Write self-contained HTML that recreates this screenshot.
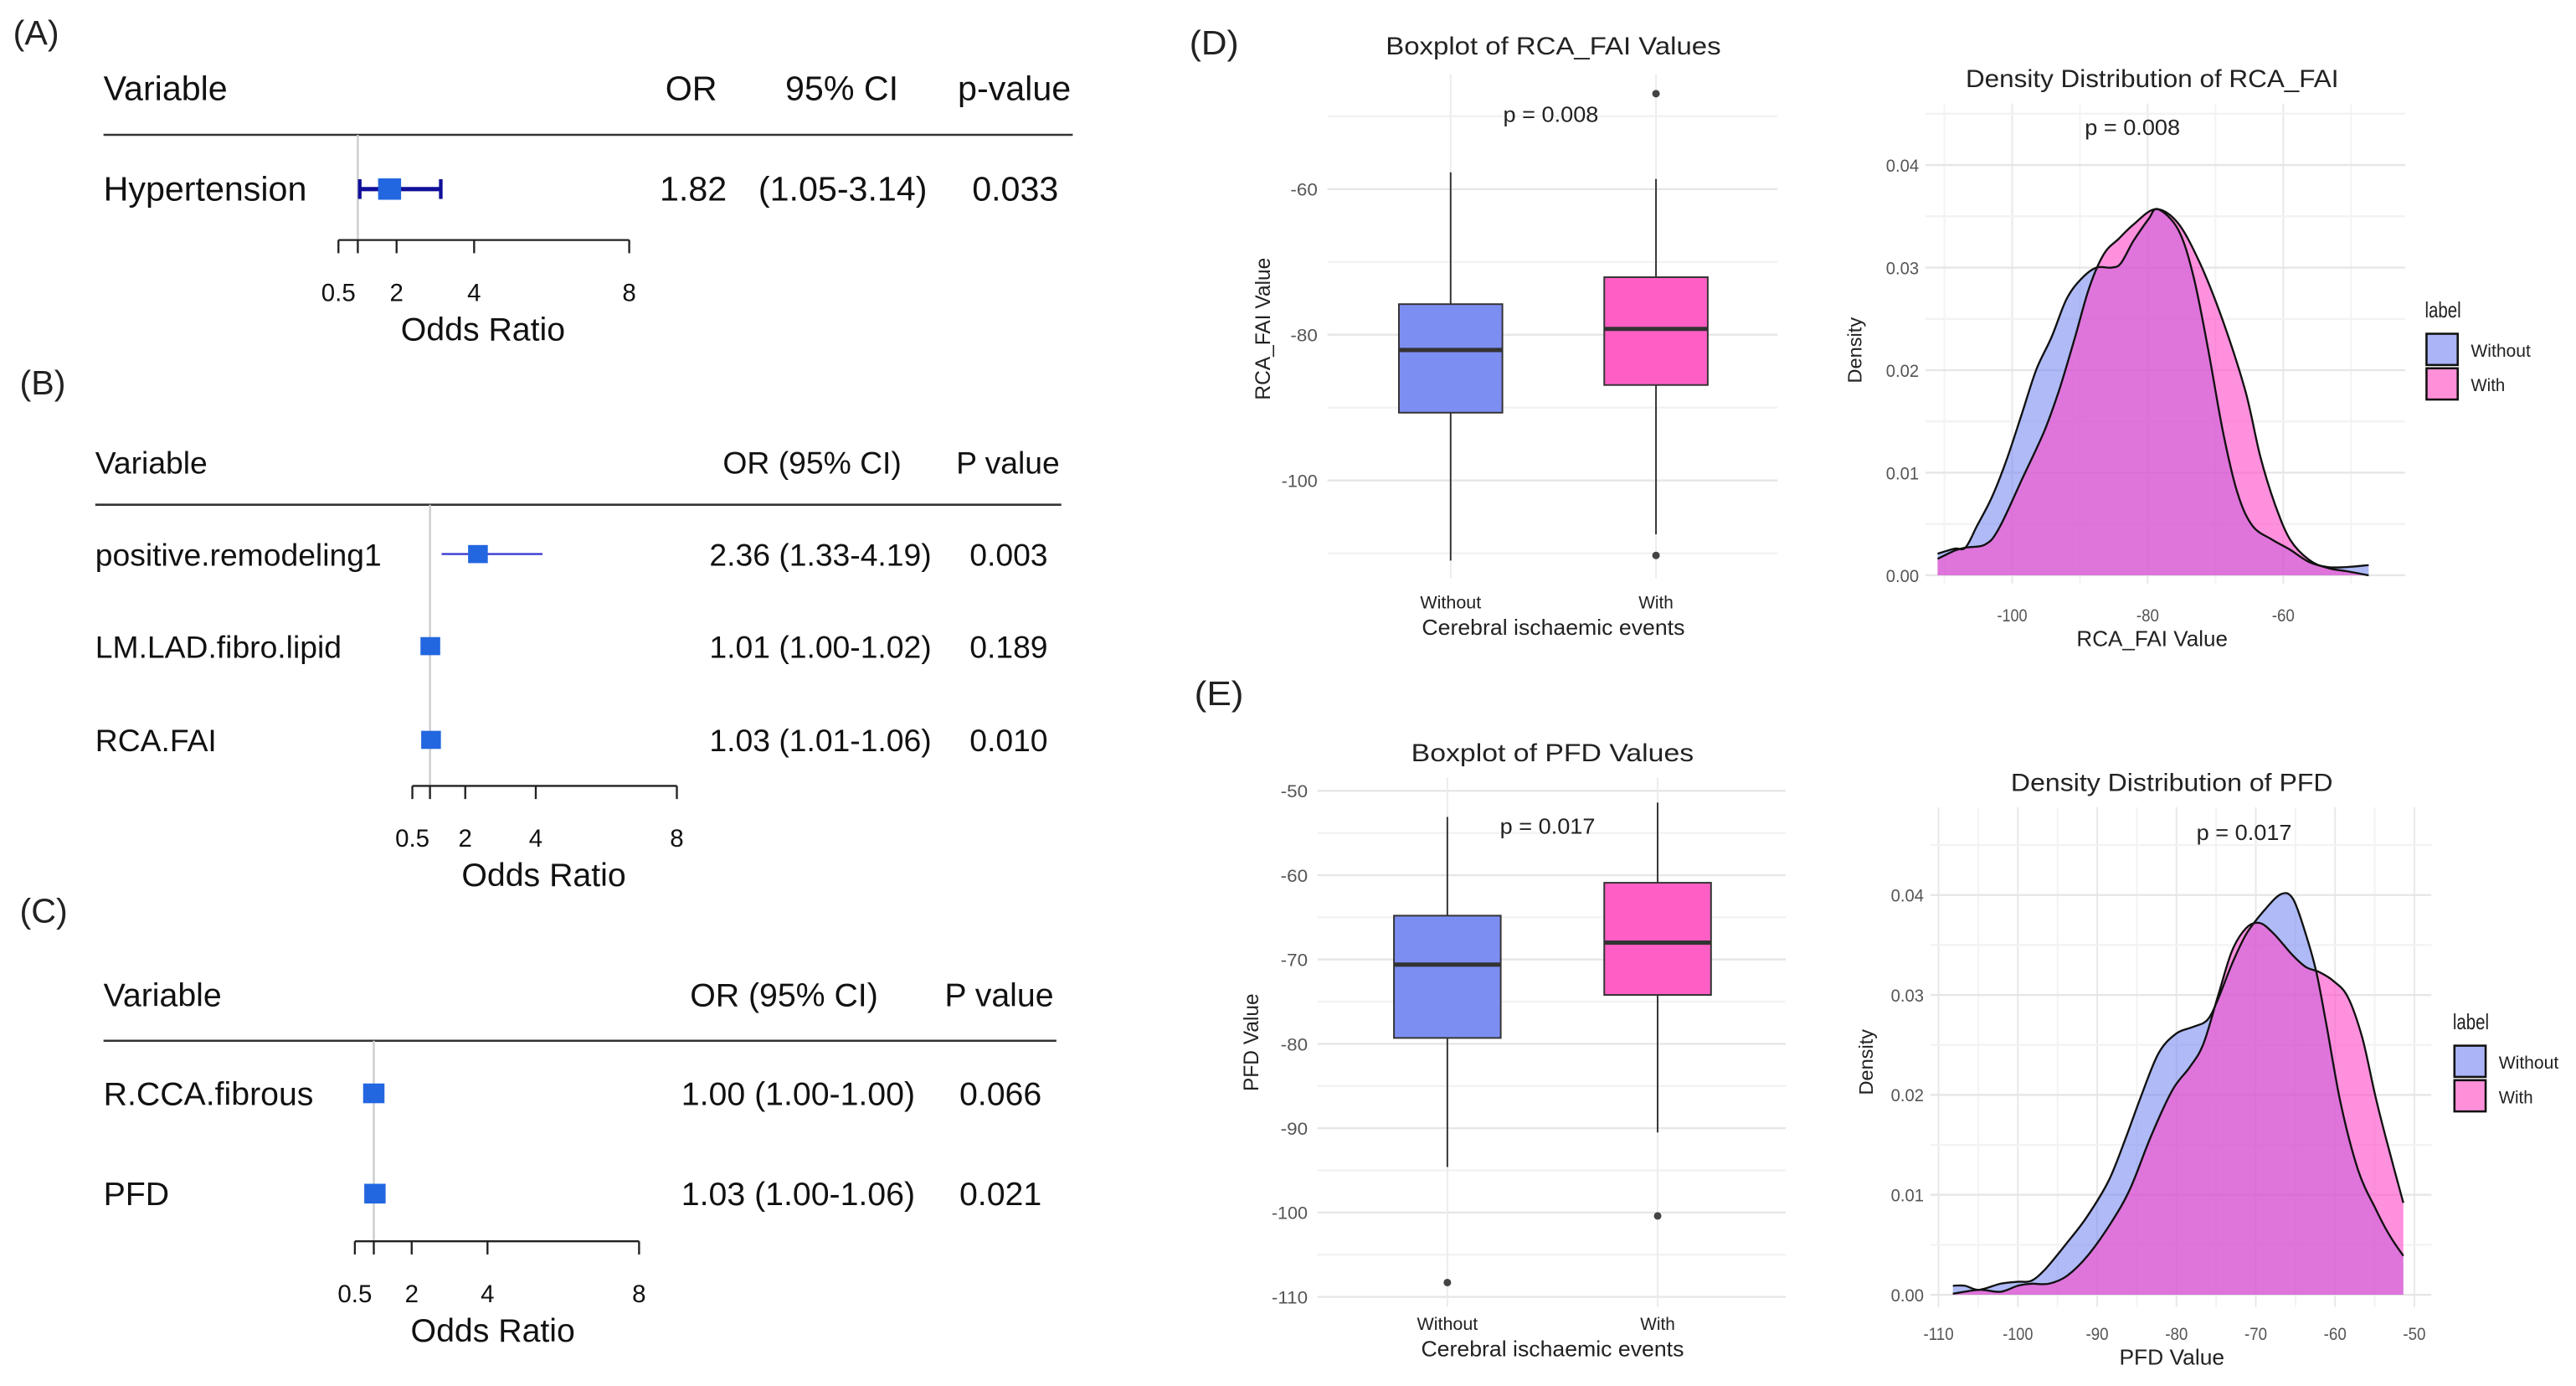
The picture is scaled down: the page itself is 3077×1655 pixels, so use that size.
<!DOCTYPE html>
<html><head><meta charset="utf-8"><style>
html,body{margin:0;padding:0;background:#fff;}
svg{display:block;font-family:"Liberation Sans",sans-serif;}
</style></head><body>
<svg id="fig" width="3077" height="1655" viewBox="0 0 1568 843" preserveAspectRatio="none" xmlns="http://www.w3.org/2000/svg">
<g id="forest"></g><g id="boxes"></g><g id="dens"></g>
</svg>
<script>
// ---------- Forest plot data ----------
const forestA_vars=["Hypertension"];
const forestA_or=[1.82];const forestA_lo=[1.05];const forestA_hi=[3.14];
const forestA_orText=["1.82"];const forestA_ciText=["(1.05-3.14)"];const forestA_p=["0.033"];
const forestB_vars=["positive.remodeling1","LM.LAD.fibro.lipid","RCA.FAI"];
const forestB_or=[2.36,1.01,1.03];const forestB_lo=[1.33,1.00,1.01];const forestB_hi=[4.19,1.02,1.06];
const forestB_text=["2.36 (1.33-4.19)","1.01 (1.00-1.02)","1.03 (1.01-1.06)"];const forestB_p=["0.003","0.189","0.010"];
const forestC_vars=["R.CCA.fibrous","PFD"];
const forestC_or=[1.00,1.03];const forestC_lo=[1.00,1.00];const forestC_hi=[1.00,1.06];
const forestC_text=["1.00 (1.00-1.00)","1.03 (1.00-1.06)"];const forestC_p=["0.066","0.021"];
const forestTicks=[0.5,1,2,4,8];const forestTickLabels=["0.5","","2","4","8"];

// ---------- Boxplot data ----------
const boxCats=["Without","With"];
const boxD_min=[-111,-107.4];const boxD_q1=[-90.7,-86.9];const boxD_med=[-82.1,-79.2];const boxD_q3=[-75.8,-72.1];const boxD_max=[-57.7,-58.6];
const boxD_outWithout=[];const boxD_outWith=[-46.9,-110.3];
const boxD_ticks=[-60,-80,-100];
const boxE_min=[-94.6,-90.5];const boxE_q1=[-79.3,-74.2];const boxE_med=[-70.6,-68.0];const boxE_q3=[-64.8,-60.9];const boxE_max=[-53.1,-51.4];
const boxE_outWithout=[-108.3];const boxE_outWith=[-100.4];
const boxE_ticks=[-50,-60,-70,-80,-90,-100,-110];

// ---------- Density data ----------
const densD_xWithout=[-111,-108.5,-106.9,-105.2,-103,-100.8,-98.6,-96.4,-94.2,-92,-89.8,-87.6,-85.4,-84,-82.1,-79.9,-78.5,-75.5,-73.3,-71.1,-68.9,-66.7,-64.5,-61.7,-59,-56.2,-53.4,-50.7,-47.4];
const densD_yWithout=[0.0021,0.0026,0.0027,0.0048,0.0076,0.0113,0.0157,0.0201,0.0232,0.0269,0.0289,0.030,0.030,0.0304,0.0326,0.0347,0.0357,0.0337,0.0293,0.0221,0.014,0.0079,0.0048,0.0035,0.0025,0.0013,0.0008,0.0008,0.001];
const densD_xWith=[-111,-108.5,-106.9,-104,-102,-98.6,-95.3,-93.1,-90.9,-88.7,-86.5,-84.3,-82.1,-78.8,-75.5,-72.2,-68.9,-65.6,-63.4,-61.2,-59,-56.2,-53.4,-50.7,-47.4];
const densD_yWith=[0.0016,0.0024,0.0027,0.003,0.0045,0.0093,0.014,0.018,0.0228,0.0279,0.0313,0.0328,0.0342,0.0357,0.0343,0.0303,0.0248,0.018,0.0116,0.0069,0.0035,0.0015,0.0007,0.0004,0.0];
const densD_xticks=[-100,-80,-60];const densD_yticks=[0,0.01,0.02,0.03,0.04];
const densE_xWithout=[-108.2,-106.7,-104.9,-102.2,-100,-98.3,-96.5,-93.8,-91.2,-88.5,-86.3,-84.5,-82.3,-80.1,-77.9,-76.1,-74.8,-73,-71.2,-69,-66.8,-65.3,-63.7,-62.4,-61.1,-59.3,-57.1,-54.9,-53.1,-51.4];
const densE_yWithout=[0.0009,0.0009,0.0005,0.0011,0.0013,0.0014,0.0026,0.0052,0.0079,0.0115,0.0159,0.0198,0.0241,0.0261,0.0268,0.0275,0.0295,0.0331,0.0361,0.0384,0.0401,0.0396,0.0361,0.0324,0.0271,0.0192,0.0125,0.0086,0.0059,0.0039];
const densE_xWith=[-108.2,-104.9,-102.2,-100,-98.3,-96.1,-93.8,-91.2,-88.5,-85.9,-83.2,-80.5,-78.3,-76.6,-74.8,-73,-71.2,-69.5,-67.7,-65.5,-63.7,-62,-60.2,-58.4,-56.6,-54.9,-53.1,-51.4];
const densE_yWith=[0.0001,0.0005,0.0003,0.0009,0.0011,0.0011,0.0019,0.0039,0.0069,0.0105,0.0159,0.0205,0.0228,0.0251,0.0298,0.0344,0.0367,0.0372,0.0361,0.0341,0.0328,0.0323,0.0314,0.0298,0.0258,0.0198,0.0142,0.0092];
const densE_xticks=[-110,-100,-90,-80,-70,-60,-50];const densE_yticks=[0,0.01,0.02,0.03,0.04];

const NS="http://www.w3.org/2000/svg";
function mk(parent,tag,attrs,text){const e=document.createElementNS(NS,tag);for(const k in attrs)e.setAttribute(k,attrs[k]);if(text!==undefined)e.textContent=text;parent.appendChild(e);return e;}

// ---------- Forest plots ----------
const F=document.getElementById('forest');
function forest(cfg){
  const g=mk(F,'g',{});
  
  
  const sx=v=>cfg.x0+(v-0.5)*(cfg.x1-cfg.x0)/7.5;
  const t=mk(g,'text',{x:cfg.labelX,y:cfg.labelY,'font-size':21,fill:'#222'},cfg.label);
  
  cfg.headers.forEach(h=>{const e=mk(g,'text',{x:h[1],y:cfg.hy,'font-size':cfg.fs,'text-anchor':h[2]||'start',fill:'#111'},h[0]);
    });
  mk(g,'line',{x1:cfg.lx0,x2:cfg.lx1,y1:cfg.ly,y2:cfg.ly,stroke:'#333','stroke-width':1.3});
  const ref=mk(g,'line',{x1:sx(1),x2:sx(1),y1:cfg.ly,y2:cfg.ay,stroke:'#ccc','stroke-width':1.2});
  
  cfg.vars.forEach((v,i)=>{
    const y=cfg.rows[i];
    const a=mk(g,'text',{x:cfg.lx0,y:y+7,'font-size':cfg.fs,fill:'#111'},v);
    
    const ci=mk(g,'line',{x1:sx(cfg.lo[i]),x2:sx(cfg.hi[i]),y1:y,y2:y,stroke:cfg.ciColor,'stroke-width':cfg.ciW});
    
    if(cfg.caps){[cfg.lo[i],cfg.hi[i]].forEach(c=>mk(g,'line',{x1:sx(c),x2:sx(c),y1:y-6,y2:y+6,stroke:cfg.ciColor,'stroke-width':2.2}));}
    const b=mk(g,'rect',{x:sx(cfg.or[i])-cfg.bw/2,y:y-cfg.bh/2,width:cfg.bw,height:cfg.bh,fill:'#2266e0'});
    
    cfg.cols.forEach(c=>{const e=mk(g,'text',{x:c[1],y:y+7,'font-size':cfg.fs,'text-anchor':c[2],fill:'#111'},c[0][i]);
      });
  });
  const ax=mk(g,'g',{});
  mk(ax,'line',{x1:sx(0.5),x2:sx(8),y1:cfg.ay,y2:cfg.ay,stroke:'#222','stroke-width':1.2});
  forestTicks.forEach((tk,i)=>{mk(ax,'line',{x1:sx(tk),x2:sx(tk),y1:cfg.ay,y2:cfg.ay+8,stroke:'#222','stroke-width':1.2});
    if(forestTickLabels[i])mk(ax,'text',{x:sx(tk),y:cfg.ay+37,'font-size':15,'text-anchor':'middle',fill:'#111'},forestTickLabels[i]);});
  const xt=mk(g,'text',{x:cfg.titleX,y:cfg.ay+61,'font-size':20,'text-anchor':'middle',fill:'#111'},'Odds Ratio');
  
}
forest({name:'forest-plot-a',label:'(A)',labelX:8,labelY:27,hy:61,fs:21,lx0:63,lx1:653,ly:82,ay:146,x0:206,x1:383,titleX:294,
  headers:[['Variable',63],['OR',405],['95% CI',478],['p-value',583]],vars:forestA_vars,rows:[115],or:forestA_or,lo:forestA_lo,hi:forestA_hi,
  ciColor:'#10109a',ciW:2.6,caps:true,bw:14,bh:13,cols:[[forestA_orText,422,'middle'],[forestA_ciText,513,'middle'],[forestA_p,618,'middle']]});
forest({name:'forest-plot-b',label:'(B)',labelX:12,labelY:240,hy:288,fs:19,lx0:58,lx1:646,ly:307,ay:478,x0:251,x1:412,titleX:331,
  headers:[['Variable',58],['OR (95% CI)',440],['P value',582]],vars:forestB_vars,rows:[337,393,450],or:forestB_or,lo:forestB_lo,hi:forestB_hi,
  ciColor:'#3a3ad0',ciW:1.2,caps:false,bw:12,bh:11,cols:[[forestB_text,567,'end'],[forestB_p,614,'middle']]});
forest({name:'forest-plot-c',label:'(C)',labelX:12,labelY:561,hy:612,fs:20,lx0:63,lx1:643,ly:633,ay:755,x0:216,x1:389,titleX:300,
  headers:[['Variable',63],['OR (95% CI)',420],['P value',575]],vars:forestC_vars,rows:[665,726],or:forestC_or,lo:forestC_lo,hi:forestC_hi,
  ciColor:'#3a3ad0',ciW:1.2,caps:false,bw:13,bh:12,cols:[[forestC_text,557,'end'],[forestC_p,609,'middle']]});

// ---------- Boxplots ----------
const B=document.getElementById('boxes');
const fills=['#7d8ef2','#ff5fc5'];
function narrow(g,x,y,txt,fs,w,anchor,name){const e=mk(g,'text',{x:x,y:y,'font-size':fs,'text-anchor':anchor||'middle',fill:'#222',textLength:w,lengthAdjust:'spacingAndGlyphs'},txt);
  return e;}
function boxplot(c){
  const g=mk(B,'g',{});
  const sy=v=>c.yRef+(c.vRef-v)*c.ppu;
  const cx=[c.cx0,c.cx1];
  for(let v=c.gMin;v<=c.gMax;v+=c.gStep){mk(g,'line',{x1:c.px0,x2:c.px1,y1:sy(v),y2:sy(v),stroke:(v%c.labStep===0)?'#e6e6e6':'#f2f2f2','stroke-width':1.2});}
  cx.forEach(x=>mk(g,'line',{x1:x,x2:x,y1:c.py0,y2:c.py1,stroke:'#ececec','stroke-width':1}));
  c.ticks.forEach(t=>{const e=mk(g,'text',{x:c.px0-6,y:sy(t)+4,'font-size':11,'text-anchor':'end',fill:'#555',textLength:String(t).length*5.5,lengthAdjust:'spacingAndGlyphs'},String(t));
    });
  boxCats.forEach((cat,i)=>{
    const x=cx[i];
    mk(g,'line',{x1:x,x2:x,y1:sy(c.max[i]),y2:sy(c.q3[i]),stroke:'#333','stroke-width':1});
    mk(g,'line',{x1:x,x2:x,y1:sy(c.q1[i]),y2:sy(c.min[i]),stroke:'#333','stroke-width':1});
    const r=mk(g,'rect',{x:x-c.bw/2,y:sy(c.q3[i]),width:c.bw,height:sy(c.q1[i])-sy(c.q3[i]),fill:fills[i],stroke:'#333','stroke-width':1});
    
    mk(g,'line',{x1:x-c.bw/2,x2:x+c.bw/2,y1:sy(c.med[i]),y2:sy(c.med[i]),stroke:'#333','stroke-width':2.6});
    (i===0?c.outA:c.outB).forEach(o=>{const d=mk(g,'circle',{cx:x,cy:sy(o),r:2.3,fill:'#444'});});
    narrow(g,x,c.catY,cat,11,cat.length*5.3,'middle','x-tick-label');
  });
  narrow(g,(c.cx0+c.cx1)/2,c.titleY,c.title,15,c.titleW,'middle','chart-title');
  narrow(g,c.pX,c.pY,c.pText,13,58,'middle','p-value-label');
  narrow(g,(c.cx0+c.cx1)/2,c.catY+16,'Cerebral ischaemic events',13,160,'middle','x-axis-title');
  const yt=mk(g,'text',{x:0,y:0,'font-size':12.5,'text-anchor':'middle',fill:'#222',transform:`translate(${c.ytX},${c.ytY}) rotate(-90)`},c.yTitle);
  
}
boxplot({name:'boxplot-rca-fai',vRef:-60,yRef:115,ppu:4.43,gMin:-110,gMax:-50,gStep:10,labStep:20,px0:808,px1:1082,py0:45,py1:352,cx0:883,cx1:1008,bw:63,
  min:boxD_min,q1:boxD_q1,med:boxD_med,q3:boxD_q3,max:boxD_max,outA:boxD_outWithout,outB:boxD_outWith,ticks:boxD_ticks,
  catY:370,titleY:33,title:'Boxplot of RCA_FAI Values',titleW:204,pX:944,pY:74,pText:'p = 0.008',yTitle:'RCA_FAI Value',ytX:773,ytY:200});
boxplot({name:'boxplot-pfd',vRef:-50,yRef:481,ppu:5.13,gMin:-110,gMax:-50,gStep:5,labStep:10,px0:802,px1:1087,py0:473,py1:795,cx0:881,cx1:1009,bw:65,
  min:boxE_min,q1:boxE_q1,med:boxE_med,q3:boxE_q3,max:boxE_max,outA:boxE_outWithout,outB:boxE_outWith,ticks:boxE_ticks,
  catY:809,titleY:463,title:'Boxplot of PFD Values',titleW:172,pX:942,pY:507,pText:'p = 0.017',yTitle:'PFD Value',ytX:766,ytY:634});

// ---------- Density ----------
const D=document.getElementById('dens');
function smooth(pts){
  let d='M'+pts[0][0].toFixed(1)+','+pts[0][1].toFixed(1);
  for(let i=0;i<pts.length-1;i++){
    const p0=pts[Math.max(0,i-1)],p1=pts[i],p2=pts[i+1],p3=pts[Math.min(pts.length-1,i+2)];
    const c1=[p1[0]+(p2[0]-p0[0])/6,p1[1]+(p2[1]-p0[1])/6],c2=[p2[0]-(p3[0]-p1[0])/6,p2[1]-(p3[1]-p1[1])/6];
    d+=' C'+c1[0].toFixed(1)+','+c1[1].toFixed(1)+' '+c2[0].toFixed(1)+','+c2[1].toFixed(1)+' '+p2[0].toFixed(1)+','+p2[1].toFixed(1);
  }
  return d;
}
function density(c){
  const g=mk(D,'g',{});
  const sx=v=>c.xRef+(v-c.vxRef)*c.ppx;const sy=v=>c.y0-v*c.ppy;
  for(let v=c.xgMin;v<=c.xgMax;v+=c.xgStep)mk(g,'line',{x1:sx(v),x2:sx(v),y1:c.py0,y2:c.py1,stroke:(c.xticks.includes(v))?'#e8e8e8':'#f3f3f3','stroke-width':1});
  for(let v=0;v<=0.0451;v+=0.005)mk(g,'line',{x1:c.px0,x2:c.px1,y1:sy(v),y2:sy(v),stroke:(Math.round(v*1000)%10===0)?'#e6e6e6':'#f3f3f3','stroke-width':1.2});
  c.yticks.forEach(t=>{const e=mk(g,'text',{x:c.px0-4,y:sy(t)+4,'font-size':11,'text-anchor':'end',fill:'#555',textLength:20,lengthAdjust:'spacingAndGlyphs'},t.toFixed(2));
    });
  c.xticks.forEach(t=>{const e=mk(g,'text',{x:sx(t),y:c.xtY,'font-size':11,'text-anchor':'middle',fill:'#555',textLength:String(t).length*4.6,lengthAdjust:'spacingAndGlyphs'},String(t));
    });
  const series=[[c.xA,c.yA,'rgba(110,130,240,0.55)','density-without'],[c.xB,c.yB,'rgba(255,70,200,0.6)','density-with']];
  const paths=series.map(s=>smooth(s[0].map((x,i)=>[sx(x),sy(s[1][i])])));
  series.forEach((s,k)=>{
    const last=s[0][s[0].length-1];
    const d=paths[k]+' L'+sx(last).toFixed(1)+','+sy(0)+' L'+sx(s[0][0]).toFixed(1)+','+sy(0)+'Z';
    const p=mk(g,'path',{d:d,fill:s[2],stroke:'none'});
  });
  series.forEach((s,k)=>{
    const p=mk(g,'path',{d:paths[k],fill:'none',stroke:'#111','stroke-width':1.2});
  });
  narrow(g,c.titleX,c.titleY,c.title,15,c.titleW,'middle','chart-title');
  narrow(g,c.pX,c.pY,c.pText,13,58,'middle','p-value-label');
  narrow(g,c.xTitleX,c.xtY+15,c.xTitle,13,c.xTitleW,'middle','x-axis-title');
  const yt=mk(g,'text',{x:0,y:0,'font-size':12,'text-anchor':'middle',fill:'#222',transform:`translate(${c.ytX},${c.ytY}) rotate(-90)`},'Density');
  
  const lg=mk(g,'g',{});
  narrow(lg,c.lgX,c.lgY,'label',13,22,'start','legend-title');
  [['Without','#aab4f6'],['With','#ff8fd8']].forEach((l,i)=>{
    const r=mk(lg,'rect',{x:c.lgX+1,y:c.lgY+10+i*21,width:19,height:19,fill:l[1],stroke:'#111','stroke-width':1.3});
    
    narrow(lg,c.lgX+28,c.lgY+24+i*21,l[0],11,l[0].length*5.2,'start','legend-entry');
  });
}
density({name:'density-rca-fai',xRef:1224.8,vxRef:-100,ppx:4.125,y0:349.9,ppy:6238,px0:1172,px1:1464,py0:63,py1:355,xgMin:-110,xgMax:-50,xgStep:10,
  xA:densD_xWithout,yA:densD_yWithout,xB:densD_xWith,yB:densD_yWith,xticks:densD_xticks,yticks:densD_yticks,xtY:378,
  titleX:1310,titleY:53,title:'Density Distribution of RCA_FAI',titleW:227,pX:1298,pY:82,pText:'p = 0.008',xTitle:'RCA_FAI Value',xTitleX:1310,xTitleW:92,
  ytX:1133,ytY:213,lgX:1476,lgY:193});
density({name:'density-pfd',xRef:1180,vxRef:-110,ppx:4.827,y0:787.5,ppy:6078,px0:1175,px1:1480,py0:491,py1:795,xgMin:-110,xgMax:-50,xgStep:5,
  xA:densE_xWithout,yA:densE_yWithout,xB:densE_xWith,yB:densE_yWith,xticks:densE_xticks,yticks:densE_yticks,xtY:815,
  titleX:1322,titleY:481,title:'Density Distribution of PFD',titleW:196,pX:1366,pY:511,pText:'p = 0.017',xTitle:'PFD Value',xTitleX:1322,xTitleW:64,
  ytX:1140,ytY:646,lgX:1493,lgY:626});

// panel labels D, E
const s=document.getElementById('fig');
const pd=mk(s,'text',{x:724,y:33,'font-size':21,fill:'#222',textLength:30,lengthAdjust:'spacingAndGlyphs'},'(D)');

const pe=mk(s,'text',{x:727,y:429,'font-size':21,fill:'#222',textLength:30,lengthAdjust:'spacingAndGlyphs'},'(E)');

</script>
</body></html>
